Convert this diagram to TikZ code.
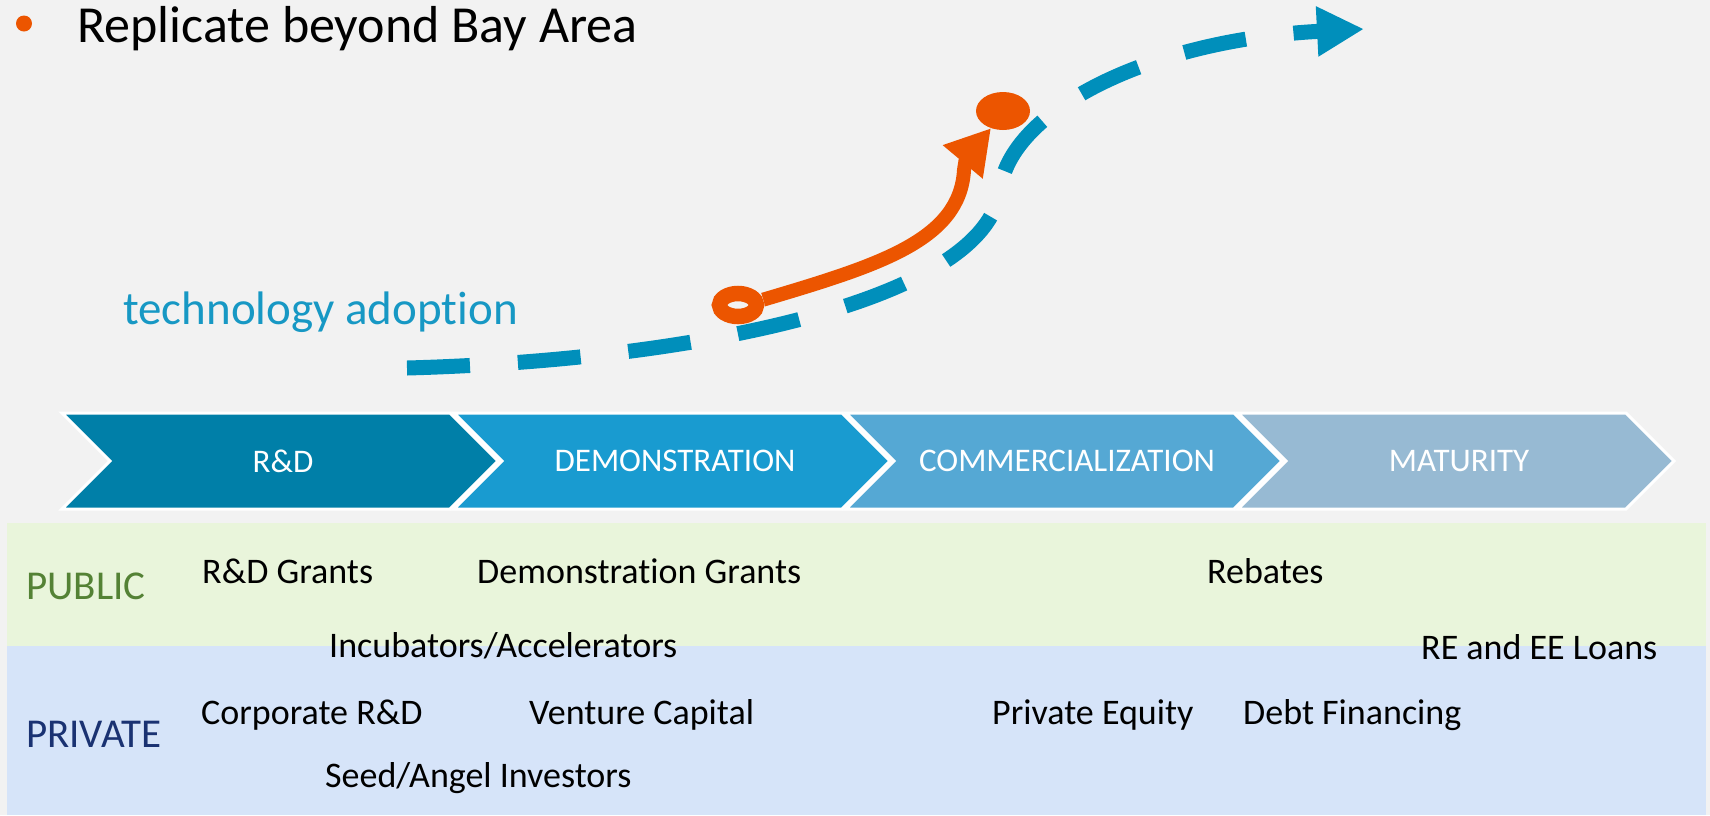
\documentclass[tikz,border=0pt]{standalone}
\usepackage{fontspec}
\setmainfont[Ligatures=NoCommon]{Carlito}
\usetikzlibrary{arrows.meta,shapes.geometric}

\definecolor{sfondo}{HTML}{F2F2F2}
\definecolor{arancio}{HTML}{EC5500}
\definecolor{azzurro}{HTML}{008FBB}
\definecolor{testoazz}{HTML}{1798C4}
\definecolor{fase1}{HTML}{007FA8}
\definecolor{fase2}{HTML}{199BD0}
\definecolor{fase3}{HTML}{55A8D4}
\definecolor{fase4}{HTML}{97BAD3}
\definecolor{pubblico}{HTML}{E9F5DB}
\definecolor{privato}{HTML}{D6E4F9}
\definecolor{verde}{HTML}{548235}
\definecolor{blu}{HTML}{1A3272}

\begin{document}
\begin{tikzpicture}[x=1pt,y=-1pt,
    fase/.style={draw=white,line width=3pt,line join=miter},
    etfase/.style={text=white,inner sep=0pt,font=\fontsize{33}{40}\selectfont},
    voce/.style={anchor=base west,inner sep=0pt,font=\fontsize{36}{43}\selectfont},
    settore/.style={anchor=base west,inner sep=0pt,font=\fontsize{41}{49}\selectfont},
    adozione/.style={draw=azzurro,line width=15pt,dash pattern=on 63pt off 48pt,
      -{Triangle[length=47pt,width=47pt]}},
    spinta/.style={draw=arancio,line width=14pt,-{Triangle[length=44pt,width=49pt]}}]
  % Sfondo
  \fill[sfondo] (0,0) rectangle (1710,815);
  \useasboundingbox (0,0) rectangle (1710,815);
  \fill[pubblico] (7,523) rectangle (1706,646);
  \fill[privato] (7,646) rectangle (1706,815);

  % Titolo
  \node[circle,fill=arancio,minimum size=16pt,inner sep=0pt] (punto) at (24,23.5) {};
  \node[anchor=base west,inner sep=0pt,font=\fontsize{52}{62}\selectfont] (titolo) at (77,42.7) {Replicate beyond Bay Area};

  % Fasi
  \draw[fase,fill=fase1] (62,413) -- (450,413) -- (498,461) -- (450,509) -- (62,509) -- (110,461) -- cycle;
  \draw[fase,fill=fase2] (454,413) -- (842,413) -- (890,461) -- (842,509) -- (454,509) -- (502,461) -- cycle;
  \draw[fase,fill=fase3] (846,413) -- (1234,413) -- (1282,461) -- (1234,509) -- (846,509) -- (894,461) -- cycle;
  \draw[fase,fill=fase4] (1238,413) -- (1626,413) -- (1674,461) -- (1626,509) -- (1238,509) -- (1286,461) -- cycle;
  \node[etfase] (rd) at (283,461) {R\&D};
  \node[etfase] (demo) at (675,461) {DEMONSTRATION};
  \node[etfase] (comm) at (1067,461) {COMMERCIALIZATION};
  \node[etfase] (mat) at (1459,461) {MATURITY};

  % Curva di adozione
  \node[anchor=base west,inner sep=0pt,text=testoazz,font=\fontsize{47}{56}\selectfont] (tecno) at (123,324) {technology adoption};
  \coordinate (inizio) at (407,368);
  \coordinate (flesso) at (1000,190);
  \coordinate (fine) at (1364,29);
  \draw[adozione] (inizio) .. controls (700,360) and (985,300) .. (flesso)
    .. controls (1010,110) and (1150,40) .. (fine);

  % Spinta
  \node[ellipse,draw=arancio,line width=15.5pt,minimum width=37pt,minimum height=23pt,inner sep=0pt] (anello) at (738,305) {};
  \node[ellipse,fill=arancio,minimum width=54pt,minimum height=38pt,inner sep=0pt] (meta) at (1003,111) {};
  \draw[spinta] (anello.12) .. controls (880,265) and (960,240) .. (964,170)
    .. controls (966,158) .. (meta.235);

  % Fonti
  \node[settore,text=verde] (pub) at (26,599) {PUBLIC};
  \node[settore,text=blu] (priv) at (26,747) {PRIVATE};
  \node[voce] (grants) at (202,583) {R\&D Grants};
  \node[voce] (dgrants) at (477,583) {Demonstration Grants};
  \node[voce] (rebates) at (1207,583) {Rebates};
  \node[voce] (incub) at (329,657) {Incubators/Accelerators};
  \node[voce] (loans) at (1421,659) {RE and EE Loans};
  \node[voce] (corp) at (201,724) {Corporate R\&D};
  \node[voce] (vc) at (529,724) {Venture Capital};
  \node[voce] (pe) at (992,724) {Private Equity};
  \node[voce] (debt) at (1243,724) {Debt Financing};
  \node[voce] (seed) at (325,787) {Seed/Angel Investors};
\end{tikzpicture}
\end{document}
